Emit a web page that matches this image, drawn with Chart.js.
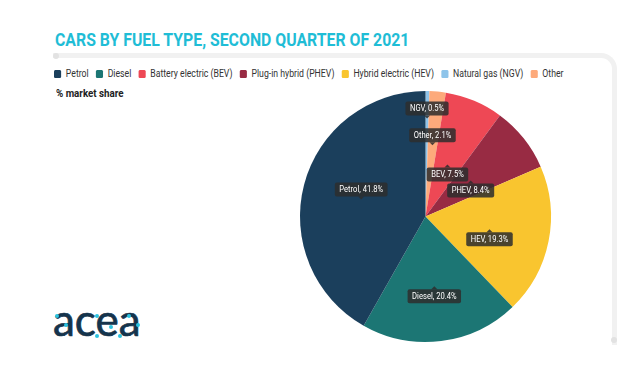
<!DOCTYPE html>
<html>
<head>
<meta charset="utf-8">
<script src="https://cdn.jsdelivr.net/npm/chart.js@4"></script>
<style>
  body { margin:0; width:630px; height:369px; background:#fff; overflow:hidden; position:relative;
         font-family:Roboto,'DejaVu Sans Condensed',sans-serif; }
  .fit { position:absolute; white-space:nowrap; transform-origin:0 0; }
  #title { left:55px; top:28px; font-size:19px; font-weight:bold; color:#1fbdd6; }
  #frame { position:absolute; left:53px; top:53px; width:559px; height:287px;
           border-top:5px solid #f1f1f1; border-right:5px solid #f1f1f1; border-top-right-radius:16px; }
  .dot { position:absolute; width:6px; height:6px; border-radius:3px; background:#e2e2e2; }
  .cy { position:absolute; width:4px; height:4px; border-radius:2px; background:#2cc3df; }
  #legend { left:54px; top:67px; font-size:11px; color:#333; }
  #legend span.item { display:inline-block; margin-right:9px; }
  #legend span.sw { display:inline-block; width:9px; height:8px; border-radius:1.5px; margin-right:6px; vertical-align:-1px; }
  #sub { left:56px; top:86px; font-size:11.5px; font-weight:bold; color:#222; }
  #logo { position:absolute; left:53px; top:293px; font-family:Lato,sans-serif; font-size:44px; color:#15344c;
          -webkit-text-stroke:0.7px #15344c; }
  canvas { position:absolute; left:0; top:0; }
</style>
</head>
<body>
<div id="frame"></div>
<div class="dot" style="left:53px;top:53px"></div>
<div class="dot" style="left:611px;top:337px"></div>
<div id="title" class="fit" data-w="354">CARS BY FUEL TYPE, SECOND QUARTER OF 2021</div>
<div id="legend" class="fit" data-w="517"></div>
<div id="sub" class="fit" data-w="68">% market share</div>
<div id="logo">acea</div>
<canvas id="pie" width="630" height="369"></canvas>
<script>
// legend order
const fuelTypes = ['Petrol','Diesel','Battery electric (BEV)','Plug-in hybrid (PHEV)','Hybrid electric (HEV)','Natural gas (NGV)','Other'];
const shortNames = ['Petrol','Diesel','BEV','PHEV','HEV','NGV','Other'];
const shares = [41.8, 20.4, 7.5, 8.4, 19.3, 0.5, 2.1];
const colors = ['#1b3f5c','#1c7674','#ee4855','#982b43','#f9c52f','#8ec4ea','#fdaa7b'];
// slices clockwise from 12 o'clock
const pieOrder = [5, 6, 2, 3, 4, 1, 0];
// label anchor (fraction of radius) and whether box sits above the anchor, per slice in pie order
const labelRadius = [0.78, 0.57, 0.45, 0.46, 0.52, 0.56, 0.53];
const labelAbove = [true, true, false, false, false, false, true];

let leg = document.getElementById('legend');
fuelTypes.forEach((n,i) => {
  leg.innerHTML += `<span class="item"><span class="sw" style="background:${colors[i]}"></span>${n}</span>`;
});
// squeeze text to a condensed look
document.querySelectorAll('.fit').forEach(el => {
  let s = el.dataset.w / el.scrollWidth;
  el.style.transform = `scaleX(${s})`;
});
// little cyan dots of the logo
[[55,314],[64,323],[95,314],[95,334],[109,325],[118,334],[127,314],[136,323]].forEach(p => {
  let d = document.createElement('div');
  d.className = 'cy';
  d.style.left = p[0] + 'px'; d.style.top = p[1] + 'px';
  document.body.appendChild(d);
});

const condensed = 0.8;
const pieLabels = {
  id:'pieLabels',
  afterDatasetsDraw(chart){
    const ctx = chart.ctx;
    const meta = chart.getDatasetMeta(0);
    ctx.save();
    ctx.font = "9.5px Roboto, sans-serif";
    ctx.textAlign = 'center';
    ctx.textBaseline = 'middle';
    meta.data.forEach((arc, k) => {
      const i = pieOrder[k];
      const mid = (arc.startAngle + arc.endAngle) / 2;
      const r = arc.outerRadius * labelRadius[k];
      const ax = arc.x + Math.cos(mid) * r;
      const ay = arc.y + Math.sin(mid) * r;
      const txt = shortNames[i] + ', ' + shares[i] + '%';
      const w = ctx.measureText(txt).width * condensed + 9;
      const h = 14;
      const by = labelAbove[k] ? ay - 3 - h : ay + 3;
      ctx.fillStyle = 'rgba(45,45,45,0.86)';
      ctx.beginPath();
      ctx.roundRect(ax - w/2, by, w, h, 2);
      ctx.fill();
      ctx.beginPath();
      if (labelAbove[k]) { ctx.moveTo(ax-3, ay-3); ctx.lineTo(ax+3, ay-3); ctx.lineTo(ax, ay); }
      else { ctx.moveTo(ax-3, ay+3); ctx.lineTo(ax+3, ay+3); ctx.lineTo(ax, ay); }
      ctx.fill();
      ctx.fillStyle = '#fff';
      ctx.save();
      ctx.translate(ax, by + h/2 + 0.5);
      ctx.scale(condensed, 1);
      ctx.fillText(txt, 0, 0);
      ctx.restore();
    });
    ctx.restore();
  }
};

new Chart(document.getElementById('pie'), {
  type:'pie',
  data:{
    labels: pieOrder.map(i => fuelTypes[i]),
    datasets:[{
      data: pieOrder.map(i => shares[i]),
      backgroundColor: pieOrder.map(i => colors[i]),
      borderWidth:0
    }]
  },
  options:{
    responsive:false,
    animation:false,
    layout:{ padding:{ left:300, right:79, top:91, bottom:27 } },
    plugins:{ legend:{ display:false }, tooltip:{ enabled:false } }
  },
  plugins:[pieLabels]
});
</script>
</body>
</html>
